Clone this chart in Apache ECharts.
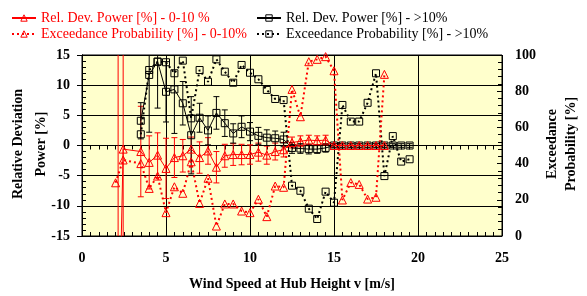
<!DOCTYPE html>
<html><head><meta charset="utf-8">
<script src="https://cdn.jsdelivr.net/npm/echarts@6/dist/echarts.min.js"></script>
<style>html,body{margin:0;padding:0;background:#fff}#c{width:587px;height:296px}</style>
</head><body><div id="c"></div>
<script>
const xTicks = [0, 5, 10, 15, 20, 25];
const redDevX = [2.15, 2.45, 3.5, 4.0, 4.5, 5.0, 5.5, 6.0, 6.5, 7.0, 7.5, 8.0, 8.5, 9.0, 9.5, 10.0, 10.5, 11.0, 11.5, 12.0, 12.5, 13.0, 13.5, 14.0, 14.5, 15.0, 15.5, 16.0, 16.5, 17.0, 17.5, 18.0];
const redDev = [-40, -0.6, -1.0, -2.8, -1.6, -3.8, -2.0, -1.7, -0.6, -2.0, -0.9, -3.6, -1.7, -1.5, -1.5, -1.5, -1.1, -1.6, -1.0, -0.7, 0.5, 0.7, 0.9, 0.8, 0.9, 0.0, 0.0, 0.0, 0.0, 0.0, 0.0, 0.0];
const redDevErr = [200, 30, 7.5, 4.4, 3.7, 5.0, 3.3, 2.7, 2.0, 2.6, 2.2, 2.6, 1.9, 1.8, 1.7, 1.6, 1.5, 1.5, 1.4, 1.2, 0.9, 0.9, 0.8, 0.8, 0.8, 0.3, 0.3, 0.3, 0.3, 0.3, 0.3, 0.3];
const redExcX = [2.0, 2.45, 3.5, 4.0, 4.5, 5.0, 5.5, 6.0, 6.5, 7.0, 7.5, 8.0, 8.5, 9.0, 9.5, 10.0, 10.5, 11.0, 11.5, 12.0, 12.5, 13.0, 13.5, 14.0, 14.5, 15.0, 15.5, 16.0, 16.5, 17.0, 17.5, 18.0];
const redExc = [29.4, 42.0, 40.0, 26.3, 33.1, 12.9, 27.2, 23.6, 41.0, 18.0, 31.9, 5.5, 17.7, 17.7, 13.8, 12.9, 20.3, 10.7, 27.6, 26.9, 81.0, 65.9, 96.3, 97.6, 99.1, 91.3, 19.9, 29.5, 28.5, 20.4, 21.4, 89.3];
const blkX = [3.5, 4.0, 4.5, 5.0, 5.5, 6.0, 6.5, 7.0, 7.5, 8.0, 8.5, 9.0, 9.5, 10.0, 10.5, 11.0, 11.5, 12.0, 12.5, 13.0, 13.5, 14.0, 14.5, 15.0, 15.5, 16.0, 16.5, 17.0, 17.5, 18.0, 18.5, 19.0, 19.5];
const blkDev = [4.1, 11.7, 13.9, 8.9, 9.3, 7.0, 1.7, 4.6, 2.5, 5.4, 3.7, 2.0, 3.1, 2.3, 1.6, 1.3, 1.2, 1.0, -0.4, -0.5, -0.6, -0.6, -0.4, 0, 0, 0, 0, 0, 0, 0, 0, 0, 0];
const blkDevErr = [3.0, 9.5, 7.7, 5.0, 7.3, 3.6, 6.4, 2.4, 2.4, 2.7, 2.2, 1.6, 1.8, 1.5, 1.4, 1.3, 1.2, 1.2, 0.9, 0.8, 0.8, 0.7, 0.7, 0.3, 0.3, 0.3, 0.3, 0.3, 0.3, 0.3, 0.3, 0.3, 0.3];
const blkExc = [56.2, 91.7, 96.3, 96.0, 89.9, 96.9, 65.0, 91.7, 85.2, 97.6, 90.8, 84.7, 94.5, 90.2, 86.6, 80.7, 75.7, 75.1, 27.8, 25.0, 15.1, 9.4, 24.5, 18.4, 72.4, 63.2, 63.2, 73.6, 89.9, 33.1, 55.2, 41.1, 42.4];

const names = ['Rel. Dev. Power [%] - 0-10 %', 'Exceedance Probability [%] - 0-10%', 'Rel. Dev. Power [%] - >10%', 'Exceedance Probability [%] - >10%'];
const RED = '#ff0000', BLK = '#000000';
const FONT = "'Liberation Serif', 'Times New Roman', serif";

const pairs = (xs, ys) => xs.map((x, i) => [x, ys[i]]);
const errs = (xs, ys, es) => xs.map((x, i) => [x, ys[i] - es[i], ys[i] + es[i]]);

function errRender(color) {
  return function (params, api) {
    const x = api.value(0), lo = api.value(1), hi = api.value(2);
    const cs = params.coordSys;
    const pHi = api.coord([x, hi]), pLo = api.coord([x, lo]);
    const top = cs.y, bot = cs.y + cs.height;
    const px = pHi[0];
    const y1 = Math.max(pHi[1], top), y2 = Math.min(pLo[1], bot);
    if (y1 > bot || y2 < top) return;
    const st = { stroke: color, lineWidth: 1 };
    const ch = [{ type: 'line', shape: { x1: px, y1: y1, x2: px, y2: y2 }, style: st }];
    if (pHi[1] >= top) ch.push({ type: 'line', shape: { x1: px - 3, y1: pHi[1], x2: px + 3, y2: pHi[1] }, style: st });
    if (pLo[1] <= bot) ch.push({ type: 'line', shape: { x1: px - 3, y1: pLo[1], x2: px + 3, y2: pLo[1] }, style: st });
    return { type: 'group', children: ch };
  };
}

function legend(name, color, left, top) {
  return {
    data: [name], left: left, top: top, padding: 0, itemWidth: 24, itemHeight: 8,
    selectedMode: false,
    itemStyle: { color: 'rgba(0,0,0,0)', borderColor: color, borderWidth: 1 },
    textStyle: { color: color, fontFamily: FONT, fontSize: 14 }
  };
}

const chart = echarts.init(document.getElementById('c'), null, { renderer: 'canvas' });
chart.setOption({
  animation: false,
  backgroundColor: '#ffffff',
  grid: { left: 82, right: 85, top: 55, bottom: 60, show: true, backgroundColor: '#ffffcc', borderColor: '#000', borderWidth: 1 },
  legend: [
    legend(names[0], RED, 11, 11),
    legend(names[1], RED, 11, 27),
    legend(names[2], BLK, 256, 11),
    legend(names[3], BLK, 256, 27)
  ],
  xAxis: [
    { type: 'value', min: xTicks[0], max: xTicks[xTicks.length - 1], interval: 5,
      axisLine: { onZero: false, lineStyle: { color: '#000' } }, axisTick: { show: false },
      axisLabel: { color: '#000', fontFamily: FONT, fontWeight: 'bold', fontSize: 14, margin: 15 },
      splitLine: { show: true, lineStyle: { color: '#000', width: 1 } } },
    { type: 'value', min: 0, max: 25, interval: 0.5, axisLine: { show: true, onZero: true, lineStyle: { color: '#000' } },
      axisTick: { show: true, inside: true, length: 4, lineStyle: { color: '#000' } }, axisLabel: { show: false }, splitLine: { show: false } },
    { type: 'value', min: 0, max: 25, interval: 0.5, axisLine: { show: false, onZero: true },
      axisTick: { show: true, inside: false, length: 4, lineStyle: { color: '#000' } }, axisLabel: { show: false }, splitLine: { show: false } }
  ],
  yAxis: [
    { type: 'value', min: -15, max: 15, interval: 5, position: 'left',
      axisLine: { show: true, lineStyle: { color: '#000' } },
      axisTick: { show: true, inside: false, length: 5, lineStyle: { color: '#000' } },
      axisLabel: { color: '#000', fontFamily: FONT, fontWeight: 'bold', fontSize: 14, margin: 12 },
      splitLine: { show: true, lineStyle: { color: '#000', width: 1 } } },
    { type: 'value', min: 0, max: 100, interval: 20, position: 'right',
      axisLine: { show: true, lineStyle: { color: '#000' } },
      axisTick: { show: true, inside: false, length: 4, lineStyle: { color: '#000' } },
      axisLabel: { color: '#000', fontFamily: FONT, fontWeight: 'bold', fontSize: 14, margin: 13 },
      splitLine: { show: false } },
    { type: 'value', min: -15, max: 15, interval: 5, position: 'left',
      axisLine: { show: false }, axisLabel: { show: false }, splitLine: { show: false },
      axisTick: { show: true, inside: true, length: 5, lineStyle: { color: '#000' } },
      minorTick: { show: true, splitNumber: 5, length: 4, lineStyle: { color: '#000' } } },
    { type: 'value', min: 0, max: 100, interval: 20, position: 'right',
      axisLine: { show: false }, axisLabel: { show: false }, splitLine: { show: false },
      axisTick: { show: true, inside: true, length: 5, lineStyle: { color: '#000' } },
      minorTick: { show: true, splitNumber: 5, length: 4, lineStyle: { color: '#000' } } }
  ],
  graphic: [
    { type: 'text', x: 30, y: 144, rotation: Math.PI / 2,
      style: { text: 'Relative Deviation\nPower [%]', fill: '#000', font: "bold 14px 'Liberation Serif', serif", align: 'center', verticalAlign: 'middle', lineHeight: 23 } },
    { type: 'text', x: 562, y: 144, rotation: Math.PI / 2,
      style: { text: 'Exceedance\nProbability [%]', fill: '#000', font: "bold 14px 'Liberation Serif', serif", align: 'center', verticalAlign: 'middle', lineHeight: 19 } },
    { type: 'text', x: 292, y: 284,
      style: { text: 'Wind Speed at Hub Height v [m/s]', fill: '#000', font: "bold 14px 'Liberation Serif', serif", align: 'center', verticalAlign: 'middle' } }
  ],
  series: [
    { type: 'custom', name: 'errRed', xAxisIndex: 0, yAxisIndex: 0, renderItem: errRender(RED), data: errs(redDevX, redDev, redDevErr), encode: { x: 0, y: [1, 2] }, z: 2 },
    { type: 'custom', name: 'errBlk', xAxisIndex: 0, yAxisIndex: 0, renderItem: errRender(BLK), data: errs(blkX, blkDev, blkDevErr), encode: { x: 0, y: [1, 2] }, z: 2 },
    { type: 'line', name: names[3], xAxisIndex: 0, yAxisIndex: 1, data: pairs(blkX, blkExc), symbol: 'rect', symbolSize: 7,
      lineStyle: { color: BLK, width: 2, type: [2, 3] }, itemStyle: { color: 'rgba(0,0,0,0)', borderColor: BLK, borderWidth: 1 }, z: 3 },
    { type: 'line', name: names[1], xAxisIndex: 0, yAxisIndex: 1, data: pairs(redExcX, redExc), symbol: 'triangle', symbolSize: 8,
      lineStyle: { color: RED, width: 2, type: [2, 3] }, itemStyle: { color: 'rgba(0,0,0,0)', borderColor: RED, borderWidth: 1 }, z: 3 },
    { type: 'line', name: names[2], xAxisIndex: 0, yAxisIndex: 0, data: pairs(blkX, blkDev), symbol: 'rect', symbolSize: 7,
      lineStyle: { color: BLK, width: 1 }, itemStyle: { color: 'rgba(0,0,0,0)', borderColor: BLK, borderWidth: 1 }, z: 4 },
    { type: 'line', name: names[0], xAxisIndex: 0, yAxisIndex: 0, data: pairs(redDevX, redDev), symbol: 'triangle', symbolSize: 8,
      lineStyle: { color: RED, width: 1 }, itemStyle: { color: 'rgba(0,0,0,0)', borderColor: RED, borderWidth: 1 }, z: 5 }
  ]
});
</script></body></html>
